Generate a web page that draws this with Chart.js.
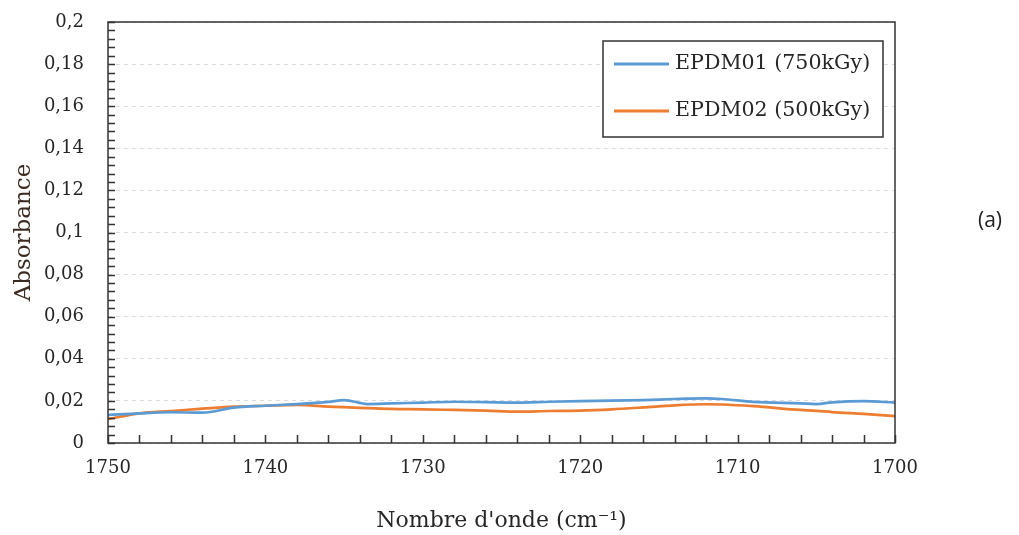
<!DOCTYPE html>
<html>
<head>
<meta charset="utf-8">
<script src="https://cdn.jsdelivr.net/npm/chart.js@4.4.0/dist/chart.umd.min.js"></script>
<style>
html,body{margin:0;padding:0;background:#fff;overflow:hidden}
#wrap{position:relative;width:1019px;height:535px}
#tag{position:absolute;left:978px;top:205px;font-family:"Open Sans",sans-serif;font-size:21px;color:#222}
</style>
</head>
<body>
<div id="wrap">
<canvas id="c" width="1019" height="535"></canvas>
<div id="tag">(a)</div>
</div>
<script>
const wavenumbers = [1750,1748,1746,1744,1742,1740,1738,1736,1735,1733.5,1732,1730,1728,1726,1724,1722,1720,1718,1716,1714,1712,1711,1709,1706,1705,1704,1702,1700];
const epdm01 = [0.0133,0.0141,0.0146,0.0144,0.0168,0.0177,0.0185,0.0195,0.0204,0.0185,0.0188,0.0192,0.0196,0.0194,0.0192,0.0196,0.0199,0.0201,0.0204,0.0209,0.0212,0.0209,0.0195,0.0188,0.0185,0.0193,0.0199,0.0192];
const epdm02 = [0.0114,0.0141,0.0152,0.0163,0.0173,0.0177,0.0181,0.0173,0.0170,0.0166,0.0162,0.0160,0.0157,0.0154,0.0149,0.0152,0.0154,0.0160,0.0169,0.0179,0.0184,0.0183,0.0175,0.0157,0.0153,0.0147,0.0138,0.0128];
const seriesLabels = ["EPDM01 (750kGy)", "EPDM02 (500kGy)"];
const xTickMarks = [1750,1748,1746,1744,1742,1740,1738,1736,1734,1732,1730,1728,1726,1724,1722,1720,1718,1716,1714,1712,1710,1708,1706,1704,1702,1700];
const yTickMarks = [0,0.004,0.008,0.012,0.016,0.02,0.024,0.028,0.032,0.036,0.04,0.044,0.048,0.052,0.056,0.06,0.064,0.068,0.072,0.076,0.08,0.084,0.088,0.092,0.096,0.1,0.104,0.108,0.112,0.116,0.12,0.124,0.128,0.132,0.136,0.14,0.144,0.148,0.152,0.156,0.16,0.164,0.168,0.172,0.176,0.18,0.184,0.188,0.192,0.196,0.2];

const textColor = '#262626';
const serif = '"DejaVu Serif", serif';

const framePlugin = {
  id: 'frame',
  afterDraw(chart) {
    const {ctx, chartArea: a, scales: {x, y}} = chart;
    ctx.save();
    ctx.strokeStyle = '#333';
    ctx.lineWidth = 1.5;
    ctx.strokeRect(a.left, a.top, a.right - a.left, a.bottom - a.top);
    ctx.beginPath();
    xTickMarks.forEach(v => { const px = Math.round(x.getPixelForValue(v)) + 0.5; ctx.moveTo(px, a.bottom); ctx.lineTo(px, a.bottom - 8); });
    yTickMarks.forEach(v => { const py = Math.round(y.getPixelForValue(v)) + 0.5; ctx.moveTo(a.left, py); ctx.lineTo(a.left + 7, py); });
    ctx.lineWidth = 1.5;
    ctx.stroke();
    // legend
    const bx = a.right - 292, by = a.top + 19, bw = 280, bh = 96;
    ctx.fillStyle = '#fff';
    ctx.fillRect(bx, by, bw, bh);
    ctx.strokeStyle = '#333';
    ctx.lineWidth = 1.5;
    ctx.strokeRect(bx, by, bw, bh);
    ctx.font = '20.6px ' + serif;
    ctx.textBaseline = 'middle';
    chart.data.datasets.forEach((ds, i) => {
      const ly = by + 23 + i * 47;
      ctx.strokeStyle = ds.borderColor;
      ctx.lineWidth = 3;
      ctx.beginPath(); ctx.moveTo(bx + 11, ly); ctx.lineTo(bx + 66, ly); ctx.stroke();
      ctx.fillStyle = textColor;
      ctx.fillText(ds.label, bx + 72, ly);
    });
    ctx.restore();
  }
};

new Chart(document.getElementById('c'), {
  type: 'line',
  data: {
    datasets: [
      { label: seriesLabels[0], data: wavenumbers.map((w, i) => ({x: w, y: epdm01[i]})), borderColor: '#5b9bd5', borderWidth: 2.7, pointRadius: 0, tension: 0.4, cubicInterpolationMode: 'monotone' },
      { label: seriesLabels[1], data: wavenumbers.map((w, i) => ({x: w, y: epdm02[i]})), borderColor: '#ed7d31', borderWidth: 2.7, pointRadius: 0, tension: 0.4, cubicInterpolationMode: 'monotone' }
    ]
  },
  options: {
    responsive: false,
    animation: false,
    layout: { padding: { top: 22, right: 124, left: 0, bottom: 0 } },
    plugins: { legend: { display: false }, tooltip: { enabled: false } },
    scales: {
      x: {
        type: 'linear', min: 1700, max: 1750, reverse: true,
        ticks: { stepSize: 10, color: textColor, font: { family: serif, size: 18 }, padding: 15, maxRotation: 0,
          callback: v => String(v) },
        grid: { display: false, drawTicks: false },
        border: { display: false },
        title: { display: true, text: "Nombre d'onde (cm⁻¹)", color: textColor, font: { family: serif, size: 22 }, padding: { top: 0, bottom: 1 } },
        afterFit(s) { s.height = 92; }
      },
      y: {
        min: 0, max: 0.2,
        ticks: { stepSize: 0.02, color: textColor, font: { family: serif, size: 18 }, padding: 4,
          callback: v => String(+v.toFixed(2)).replace('.', ',') },
        grid: { color: '#dcdcdc', lineWidth: 1, drawTicks: true, tickLength: 20, tickColor: 'rgba(0,0,0,0)' },
        border: { display: false, dash: [4, 4] },
        title: { display: true, text: 'Absorbance', color: '#3a2a20', font: { family: serif, size: 23 }, padding: { top: 10, bottom: 0 } },
        afterFit(s) { s.width = 108; }
      }
    }
  },
  plugins: [framePlugin]
});
</script>
</body>
</html>
